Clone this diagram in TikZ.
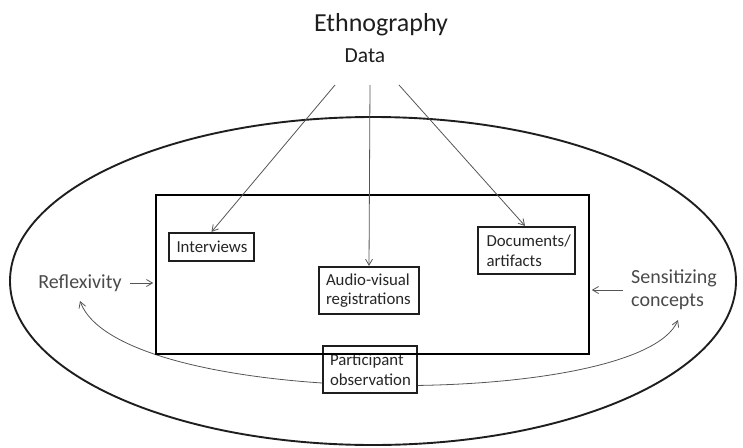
\documentclass[tikz,border=0pt]{standalone}
\usepackage{fontspec}
\setmainfont{Carlito}
\usetikzlibrary{shapes.geometric,arrows.meta}
\definecolor{ink}{HTML}{1E1E1E}
\definecolor{boxtext}{HTML}{262626}
\definecolor{softtext}{HTML}{4A4A4A}
\definecolor{wire}{HTML}{555555}
\tikzset{
  databox/.style={draw=ink, line width=2.2pt, fill=white, align=left, inner sep=0pt,
    text=boxtext, font=\fontsize{16.8}{19.5}\selectfont},
  lead/.style={draw=wire, line width=0.8pt, -{Straight Barb[length=6pt,width=7pt]}},
  lead2/.style={draw=wire, line width=0.8pt, {Straight Barb[length=6pt,width=7pt]}-{Straight Barb[length=6pt,width=7pt]}},
  concept/.style={text=softtext, font=\fontsize{20}{23}\selectfont, inner sep=0pt, align=left},
}
\begin{document}
\begin{tikzpicture}[x=1pt,y=-1pt]
  \useasboundingbox (0,0) rectangle (743,447);
  % titles
  \node (eth) [text=ink, font=\fontsize{26}{30}\selectfont, inner sep=0pt] at (381,25) {Ethnography};
  \node (data) [text=ink, font=\fontsize{21.5}{25}\selectfont, inner sep=0pt] at (365,56) {Data};
  % outer field
  \node (outer) [ellipse, draw=ink, line width=1.9pt, minimum width=726pt, minimum height=328pt, inner sep=0pt] at (373,281) {};
  % side concepts
  \node (refl) [concept] at (80,283) {Reflexivity};
  \node (sens) [concept, anchor=west] at (631,290) {Sensitizing\\concepts};
  % reciprocal link between the two concepts, passing under the frame
  \coordinate (reflfoot) at (80,301);
  \coordinate (sensfoot) at (678,320);
  \draw[lead2] (reflfoot) .. controls (120,410) and (640,410) .. (sensfoot);
  % data sources
  \node (part) [databox, minimum width=94pt, minimum height=47pt, text width=80pt] at (370,369.5) {Participant\\observation};
  \node (frame) [draw=black, line width=2.6pt, minimum width=433pt, minimum height=159pt, inner sep=0pt] at (372.5,274.5) {};
  \node (intv) [databox, minimum width=85pt, minimum height=28pt, text width=70pt] at (211.5,247) {Interviews};
  \node (av) [databox, minimum width=100pt, minimum height=47pt, text width=86pt] at (369,290.5) {Audio-visual\\registrations};
  \node (docs) [databox, minimum width=97pt, minimum height=47pt, text width=80pt] at (526.5,250.5) {Documents/\\artifacts};
  % arrows from the data heading
  \coordinate (d1) at (335,85);
  \coordinate (d2) at (370,85);
  \coordinate (d3) at (399,85);
  \draw[lead] (d1) -- (intv.north);
  \draw[lead] (d2) -- (av.north);
  \draw[lead] (d3) -- ([xshift=-1.5pt]docs.north);
  % concepts feeding the frame
  \draw[lead] ([xshift=8pt]refl.east) -- ([xshift=-1.5pt]refl.east -| frame.west);
  \draw[lead] ([xshift=-8pt]sens.west) -- ([xshift=1.5pt]sens.west -| frame.east);
\end{tikzpicture}
\end{document}
